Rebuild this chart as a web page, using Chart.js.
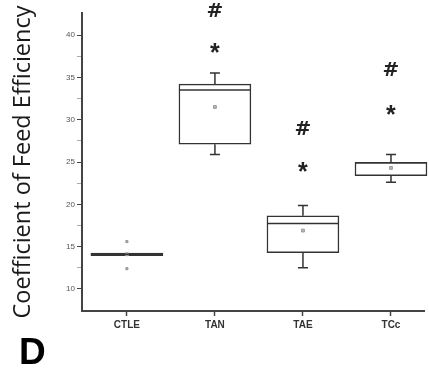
<!DOCTYPE html>
<html>
<head>
<meta charset="utf-8">
<script src="https://cdn.jsdelivr.net/npm/chart.js@4.4.0/dist/chart.umd.min.js"></script>
<style>
  html, body { margin: 0; padding: 0; background: #fff; overflow: hidden; }
  #wrap { position: relative; width: 429px; height: 372px; }
  #panel { position: absolute; left: 19px; top: 331px; font: bold 37px "Liberation Sans", Arial, sans-serif; color: #000; }
</style>
</head>
<body>
<div id="wrap">
  <canvas id="myChart" width="429" height="372"></canvas>
  <div id="panel">D</div>
</div>
<script>
const categories = ["CTLE", "TAN", "TAE", "TCc"];
const whiskerLow = [14.1, 25.9, 12.5, 22.6];
const q1 = [13.95, 27.1, 14.3, 23.4];
const median = [14.1, 33.5, 17.75, 24.9];
const q3 = [14.25, 34.2, 18.65, 24.95];
const whiskerHigh = [14.1, 35.5, 19.85, 25.9];
const means = [14.1, 31.5, 16.9, 24.3];
const ctleExtremes = [15.6, 12.4];
const starAt = [null, 38.5, 24.45, 31.1];
const hashAt = [null, 43.0, 29.0, 36.0];
const yTicks = [10, 12.5, 15, 17.5, 20, 22.5, 25, 27.5, 30, 32.5, 35, 37.5, 40];

// whiskers, medians and the * / # marks, placed through the scales
const boxExtras = {
  id: "boxExtras",
  afterDatasetsDraw(chart) {
    const ctx = chart.ctx;
    const xs = chart.scales.x, ys = chart.scales.y;
    ctx.save();
    ctx.strokeStyle = "#333";
    ctx.lineWidth = 1.5;
    categories.forEach((c, i) => {
      const x = xs.getPixelForValue(i + 1);
      const half = 36;
      // median
      ctx.beginPath();
      ctx.moveTo(x - half, ys.getPixelForValue(median[i]));
      ctx.lineTo(x + half, ys.getPixelForValue(median[i]));
      ctx.stroke();
      // whiskers
      [[q3[i], whiskerHigh[i]], [q1[i], whiskerLow[i]]].forEach(([a, b]) => {
        if (Math.abs(a - b) < 0.3) return;
        const ya = ys.getPixelForValue(a), yb = ys.getPixelForValue(b);
        ctx.beginPath();
        ctx.moveTo(x, ya); ctx.lineTo(x, yb);
        ctx.moveTo(x - 5, yb); ctx.lineTo(x + 5, yb);
        ctx.stroke();
      });
    });
    ctx.fillStyle = "#222";
    const mark = (txt, font, v, x) => {
      ctx.font = font;
      const m = ctx.measureText(txt);
      const y = ys.getPixelForValue(v) + (m.actualBoundingBoxAscent - m.actualBoundingBoxDescent) / 2;
      ctx.textAlign = "center";
      ctx.fillText(txt, x, y);
    };
    categories.forEach((c, i) => {
      const x = xs.getPixelForValue(i + 1);
      if (starAt[i] != null) mark("*", "bold 25px 'Liberation Sans'", starAt[i], x);
      if (hashAt[i] != null) mark("#", "bold 20px 'DejaVu Sans'", hashAt[i], x);
    });
    ctx.restore();
  }
};

const ctx = document.getElementById("myChart");
new Chart(ctx, {
  type: "bar",
  data: {
    datasets: [
      {
        type: "bar",
        data: categories.map((c, i) => ({ x: i + 1, y: [q1[i], q3[i]] })),
        backgroundColor: "#fff",
        borderColor: "#333",
        borderWidth: 1.5,
        borderSkipped: false,
        barThickness: 72,
        clip: false,
        order: 2
      },
      {
        type: "scatter",
        data: categories.map((c, i) => ({ x: i + 1, y: means[i] })),
        pointStyle: "rect",
        radius: 2,
        backgroundColor: "#bbb",
        borderColor: "#999",
        borderWidth: 1,
        order: 1
      },
      {
        type: "scatter",
        data: ctleExtremes.map(v => ({ x: 1, y: v })),
        pointStyle: "rect",
        radius: 1.5,
        backgroundColor: "#aaa",
        borderColor: "#999",
        borderWidth: 1,
        order: 1
      }
    ]
  },
  options: {
    responsive: false,
    animation: false,
    layout: { padding: { top: 13, right: 0, left: 0, bottom: 0 } },
    plugins: { legend: { display: false }, tooltip: { enabled: false } },
    scales: {
      x: {
        type: "linear",
        offset: false,
        min: 0.49,
        max: 4.375,
        afterBuildTicks: s => { s.ticks = [1, 2, 3, 4].map(v => ({ value: v })); },
        afterFit: s => { s.height = 61; },
        ticks: {
          callback: v => categories[v - 1],
          color: "#333",
          font: { family: "'Liberation Sans'", size: 10, weight: "bold" },
          padding: 3
        },
        grid: { offset: false, drawOnChartArea: false, tickLength: 5, tickColor: "#444", tickWidth: 1.5 },
        border: { color: "#444", width: 2 }
      },
      y: {
        min: 7.4,
        max: 42.6,
        afterBuildTicks: s => { s.ticks = yTicks.map(v => ({ value: v })); },
        afterFit: s => { s.width = 82; },
        ticks: {
          callback: v => (v % 5 === 0 ? String(v) : ""),
          color: "#555",
          font: { family: "'Liberation Sans'", size: 8 },
          padding: 2
        },
        grid: {
          drawOnChartArea: false,
          tickLength: 5,
          tickColor: c => (c.tick && c.tick.value % 5 === 0 ? "#444" : "#aaa"),
          tickWidth: 1
        },
        border: { color: "#444", width: 2 },
        title: {
          display: true,
          text: "Coefficient of Feed Efficiency",
          color: "#1a1a1a",
          font: { family: "'Open Sans'", size: 23.5, lineHeight: 1 },
          padding: { top: 12, bottom: 0 }
        }
      }
    }
  },
  plugins: [boxExtras]
});
</script>
</body>
</html>
